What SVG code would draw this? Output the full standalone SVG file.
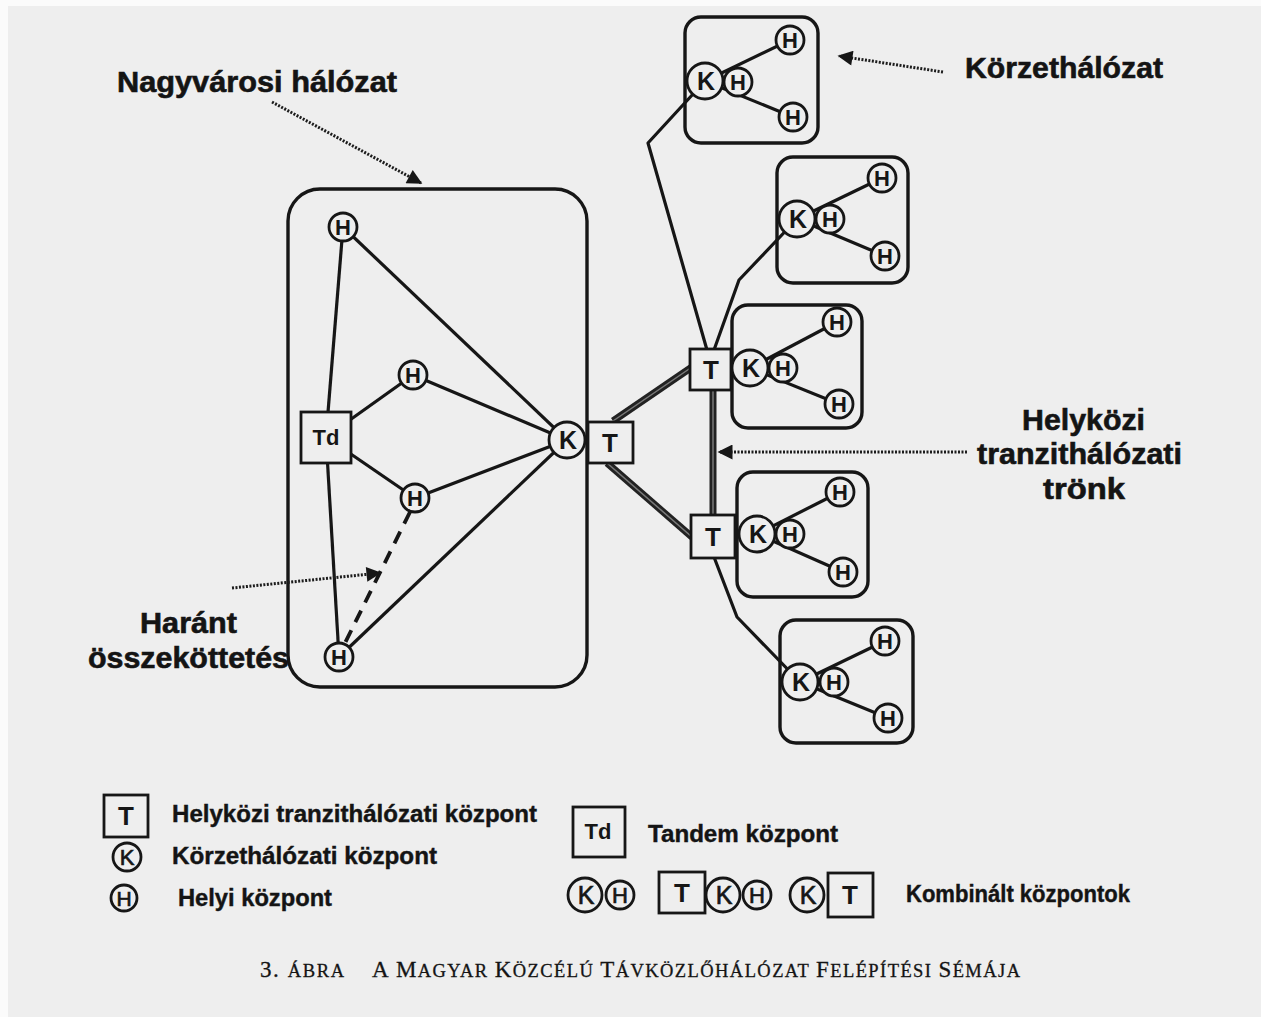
<svg xmlns="http://www.w3.org/2000/svg" width="1261" height="1017" viewBox="0 0 1261 1017">
  <defs>
    <style>
      .bg { fill: #eeeeee; }
      .frame { fill: none; stroke: #161616; stroke-width: 3.4; }
      .box { fill: #eeeeee; stroke: #161616; stroke-width: 2.8; }
      .ring { fill: #eeeeee; stroke: #161616; stroke-width: 2.8; }
      .link { fill: none; stroke: #161616; stroke-width: 3.2; stroke-linejoin: round; }
      .cross { fill: none; stroke: #161616; stroke-width: 3.8; stroke-dasharray: 13 9; }
      .trunk { fill: none; stroke: #222; stroke-width: 7; }
      .trunk-core { fill: none; stroke: #7a7a7a; stroke-width: 1.5; }
      .pointer { fill: none; stroke: #1c1c1c; stroke-width: 3; stroke-dasharray: 2 1.5; }
      .sym { font-family: "Liberation Sans", Arial, sans-serif; font-weight: bold; fill: #161616; text-anchor: middle; }
      .plain { font-weight: normal; stroke: #161616; stroke-width: 0.7; }
      .k { font-size: 25px; }
      .h { font-size: 22px; }
      .t { font-size: 26px; }
      .td { font-size: 22px; }
      .title { font-family: "Liberation Sans", Arial, sans-serif; font-weight: bold; font-size: 29px; fill: #141414; stroke: #141414; stroke-width: 0.6; }
      .key { font-family: "Liberation Sans", Arial, sans-serif; font-weight: bold; font-size: 23px; fill: #141414; stroke: #141414; stroke-width: 0.4; }
      .cap { font-family: "Liberation Serif", "Times New Roman", serif; fill: #141414; stroke: #141414; stroke-width: 0.3; }
    </style>
    <marker id="head" viewBox="0 0 10 10" refX="9" refY="5" markerWidth="20" markerHeight="15" markerUnits="userSpaceOnUse" orient="auto">
      <path d="M0,0 L10,5 L0,10 Z" fill="#161616"/>
    </marker>
  </defs>

  <!-- page -->
  <rect x="0" y="0" width="1261" height="1017" fill="#fbfbfb"/>
  <rect class="bg" x="8" y="6" width="1253" height="1011"/>

  <!-- metropolitan network frame -->
  <g id="nagyvarosi-halozat">
    <rect class="frame" x="288" y="189" width="299" height="498" rx="32"/>
  </g>

  <!-- district network frames -->
  <g id="korzet-frames">
    <rect class="frame" x="685" y="17" width="133" height="126" rx="16"/>
    <rect class="frame" x="777" y="157" width="131" height="126" rx="16"/>
    <rect class="frame" x="732" y="305" width="130" height="123" rx="16"/>
    <rect class="frame" x="737" y="472" width="131" height="125" rx="16"/>
    <rect class="frame" x="780" y="620" width="133" height="123" rx="16"/>
  </g>

  <!-- connectors -->
  <g id="connectors">
    <!-- metropolitan links -->
    <line class="link" x1="343" y1="227" x2="326" y2="437"/>
    <line class="link" x1="326" y1="437" x2="339" y2="657"/>
    <line class="link" x1="343" y1="227" x2="567" y2="440"/>
    <line class="link" x1="326" y1="437" x2="413" y2="375"/>
    <line class="link" x1="326" y1="437" x2="415" y2="498"/>
    <line class="link" x1="413" y1="375" x2="567" y2="440"/>
    <line class="link" x1="415" y1="498" x2="567" y2="440"/>
    <line class="link" x1="339" y1="657" x2="567" y2="440"/>
    <line class="cross" x1="410" y1="512" x2="344" y2="645"/>

    <!-- transit trunks -->
    <path class="trunk" d="M613,421 L692,367"/>
    <path class="trunk" d="M607,463 L692,537"/>
    <path class="trunk" d="M713,389 L713,516"/>
    <path class="trunk-core" d="M613,421 L692,367"/>
    <path class="trunk-core" d="M607,463 L692,537"/>
    <path class="trunk-core" d="M713,389 L713,516"/>

    <!-- transit to district links -->
    <polyline class="link" points="707,350 648,143 705,81"/>
    <polyline class="link" points="714,350 739,280 797,219"/>
    <polyline class="link" points="714,557 737,617 800,682"/>

    <!-- district links -->
    <line class="link" x1="705" y1="81" x2="790" y2="40"/>
    <line class="link" x1="705" y1="81" x2="793" y2="117"/>
    <line class="link" x1="797" y1="219" x2="882" y2="178"/>
    <line class="link" x1="797" y1="219" x2="885" y2="256"/>
    <line class="link" x1="750" y1="368" x2="837" y2="322"/>
    <line class="link" x1="750" y1="368" x2="839" y2="404"/>
    <line class="link" x1="757" y1="534" x2="840" y2="492"/>
    <line class="link" x1="757" y1="534" x2="843" y2="572"/>
    <line class="link" x1="800" y1="682" x2="885" y2="641"/>
    <line class="link" x1="800" y1="682" x2="888" y2="718"/>

    <!-- annotation pointers -->
    <line class="pointer" x1="272" y1="102" x2="421" y2="183" marker-end="url(#head)"/>
    <line class="pointer" x1="943" y1="72" x2="839" y2="56" marker-end="url(#head)"/>
    <line class="pointer" x1="967" y1="452" x2="719" y2="452" marker-end="url(#head)"/>
    <line class="pointer" x1="232" y1="588" x2="380" y2="573" marker-end="url(#head)"/>
  </g>

  <!-- metropolitan nodes -->
  <g id="h-top"><circle class="ring" cx="343" cy="227" r="14"/><text class="sym h" x="343" y="235">H</text></g>
  <g id="h-upper"><circle class="ring" cx="413" cy="375" r="14"/><text class="sym h" x="413" y="383">H</text></g>
  <g id="h-lower"><circle class="ring" cx="415" cy="498" r="14"/><text class="sym h" x="415" y="506">H</text></g>
  <g id="h-bottom"><circle class="ring" cx="339" cy="657" r="14"/><text class="sym h" x="339" y="665">H</text></g>
  <g id="td"><rect class="box" x="301" y="412" width="50" height="51"/><text class="sym td" x="326" y="445">Td</text></g>
  <g id="k-main"><circle class="ring" cx="567" cy="440" r="18"/><text class="sym k" x="568" y="449">K</text></g>
  <g id="t-main"><rect class="box" x="588" y="422" width="45" height="41"/><text class="sym t" x="610" y="452">T</text></g>

  <!-- district 1 -->
  <g id="korzet-1">
    <circle class="ring" cx="790" cy="40" r="14"/><text class="sym h" x="790" y="48">H</text>
    <circle class="ring" cx="793" cy="117" r="14"/><text class="sym h" x="793" y="125">H</text>
    <circle class="ring" cx="738" cy="82" r="14"/><text class="sym h" x="738" y="90">H</text>
    <circle class="ring" cx="705" cy="81" r="18"/><text class="sym k" x="706" y="90">K</text>
  </g>
  <!-- district 2 -->
  <g id="korzet-2">
    <circle class="ring" cx="882" cy="178" r="14"/><text class="sym h" x="882" y="186">H</text>
    <circle class="ring" cx="885" cy="256" r="14"/><text class="sym h" x="885" y="264">H</text>
    <circle class="ring" cx="830" cy="219" r="14"/><text class="sym h" x="830" y="227">H</text>
    <circle class="ring" cx="797" cy="219" r="18"/><text class="sym k" x="798" y="228">K</text>
  </g>
  <!-- district 3 with transit exchange -->
  <g id="korzet-3">
    <circle class="ring" cx="837" cy="322" r="14"/><text class="sym h" x="837" y="330">H</text>
    <circle class="ring" cx="839" cy="404" r="14"/><text class="sym h" x="839" y="412">H</text>
    <circle class="ring" cx="783" cy="368" r="14"/><text class="sym h" x="783" y="376">H</text>
    <circle class="ring" cx="750" cy="368" r="18"/><text class="sym k" x="751" y="377">K</text>
    <rect class="box" x="690" y="349" width="41" height="41"/><text class="sym t" x="711" y="379">T</text>
  </g>
  <!-- district 4 with transit exchange -->
  <g id="korzet-4">
    <circle class="ring" cx="840" cy="492" r="14"/><text class="sym h" x="840" y="500">H</text>
    <circle class="ring" cx="843" cy="572" r="14"/><text class="sym h" x="843" y="580">H</text>
    <circle class="ring" cx="790" cy="534" r="14"/><text class="sym h" x="790" y="542">H</text>
    <circle class="ring" cx="757" cy="534" r="18"/><text class="sym k" x="758" y="543">K</text>
    <rect class="box" x="691" y="515" width="44" height="43"/><text class="sym t" x="713" y="546">T</text>
  </g>
  <!-- district 5 -->
  <g id="korzet-5">
    <circle class="ring" cx="885" cy="641" r="14"/><text class="sym h" x="885" y="649">H</text>
    <circle class="ring" cx="888" cy="718" r="14"/><text class="sym h" x="888" y="726">H</text>
    <circle class="ring" cx="834" cy="682" r="14"/><text class="sym h" x="834" y="690">H</text>
    <circle class="ring" cx="800" cy="682" r="18"/><text class="sym k" x="801" y="691">K</text>
  </g>

  <!-- annotations -->
  <g id="labels">
    <text class="title" x="117" y="92" textLength="280" lengthAdjust="spacingAndGlyphs">Nagyvárosi hálózat</text>
    <text class="title" x="965" y="78" textLength="198" lengthAdjust="spacingAndGlyphs">Körzethálózat</text>
    <text class="title" x="1022" y="430" textLength="123" lengthAdjust="spacingAndGlyphs">Helyközi</text>
    <text class="title" x="977" y="464" textLength="205" lengthAdjust="spacingAndGlyphs">tranzithálózati</text>
    <text class="title" x="1043" y="499" textLength="82" lengthAdjust="spacingAndGlyphs">trönk</text>
    <text class="title" x="140" y="633" textLength="97" lengthAdjust="spacingAndGlyphs">Haránt</text>
    <text class="title" x="88" y="668" textLength="201" lengthAdjust="spacingAndGlyphs">összeköttetés</text>
  </g>

  <!-- legend -->
  <g id="legend">
    <rect class="box" x="104" y="795" width="44" height="42"/><text class="sym t" x="126" y="825">T</text>
    <text class="key" x="172" y="822" textLength="365" lengthAdjust="spacingAndGlyphs">Helyközi tranzithálózati központ</text>
    <circle class="ring" cx="127" cy="857" r="14"/><text class="sym plain" x="127" y="865" style="font-size:22px">K</text>
    <text class="key" x="172" y="864" textLength="265" lengthAdjust="spacingAndGlyphs">Körzethálózati központ</text>
    <circle class="ring" cx="124" cy="898" r="13"/><text class="sym plain" x="124" y="906" style="font-size:21px">H</text>
    <text class="key" x="178" y="906" textLength="154" lengthAdjust="spacingAndGlyphs">Helyi központ</text>

    <rect class="box" x="573" y="807" width="52" height="50"/><text class="sym td" x="598" y="839">Td</text>
    <text class="key" x="648" y="842" textLength="190" lengthAdjust="spacingAndGlyphs">Tandem központ</text>

    <circle class="ring" cx="620" cy="895" r="14"/><text class="sym plain" x="620" y="903" style="font-size:22px">H</text>
    <circle class="ring" cx="585" cy="895" r="17"/><text class="sym plain" x="586" y="904" style="font-size:25px">K</text>

    <circle class="ring" cx="757" cy="895" r="14"/><text class="sym plain" x="757" y="903" style="font-size:22px">H</text>
    <circle class="ring" cx="723" cy="895" r="17"/><text class="sym plain" x="724" y="904" style="font-size:25px">K</text>
    <rect class="box" x="659" y="872" width="46" height="41"/><text class="sym t" x="682" y="902">T</text>

    <circle class="ring" cx="807" cy="895" r="17"/><text class="sym plain" x="808" y="904" style="font-size:25px">K</text>
    <rect class="box" x="828" y="873" width="45" height="44"/><text class="sym t" x="850" y="904">T</text>

    <text class="key" x="906" y="902" textLength="224" lengthAdjust="spacingAndGlyphs">Kombinált központok</text>
  </g>

  <!-- figure caption -->
  <g id="caption">
    <text class="cap" x="260" y="977" textLength="84" lengthAdjust="spacing"><tspan font-size="23">3. </tspan><tspan font-size="18.5">ÁBRA</tspan></text>
    <text class="cap" x="372" y="977" textLength="648" lengthAdjust="spacing"><tspan font-size="23">A M</tspan><tspan font-size="18.5">AGYAR </tspan><tspan font-size="23">K</tspan><tspan font-size="18.5">ÖZCÉLÚ </tspan><tspan font-size="23">T</tspan><tspan font-size="18.5">ÁVKÖZLŐHÁLÓZAT </tspan><tspan font-size="23">F</tspan><tspan font-size="18.5">ELÉPÍTÉSI </tspan><tspan font-size="23">S</tspan><tspan font-size="18.5">ÉMÁJA</tspan></text>
  </g>
</svg>
